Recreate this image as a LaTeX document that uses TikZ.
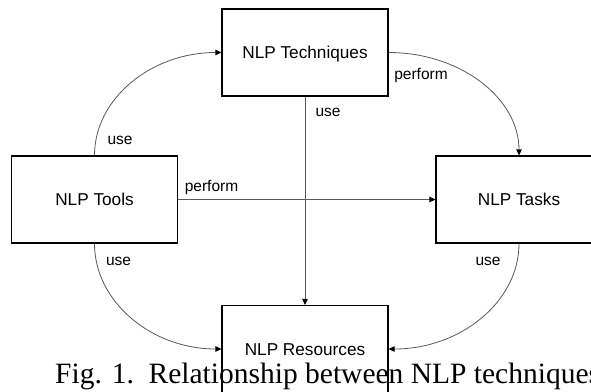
\documentclass[tikz,border=0pt]{standalone}
\usepackage{fontspec}
\setmainfont{Liberation Serif}
\setsansfont{Liberation Sans}
\usetikzlibrary{arrows.meta,shadows}
\begin{document}
\begin{tikzpicture}[x=1pt,y=-1pt,
  box/.style={draw=black, line width=1.2pt, fill=white, minimum width=166pt, minimum height=87pt, inner sep=0pt,
    font=\sffamily\fontsize{17.2}{19}\selectfont, text height=12.3pt, text depth=0pt,
    drop shadow={shadow xshift=0.6pt, shadow yshift=-1.4pt, fill=black!35, opacity=0.6}},
  conn/.style={draw=black!65, line width=0.8pt, -{Triangle[length=6pt,width=5.5pt,black]}},
  lbl/.style={font=\sffamily\fontsize{15.5}{17}\selectfont, anchor=base, inner sep=0pt}]
\useasboundingbox (0,0) rectangle (591,391);
\clip (0,0) rectangle (591,391);
\fill[white] (0,0) rectangle (591,391);
% boxes
\node[box] (tech) at (305,52.5) {NLP Techniques};
\node[box] (tools) at (94.5,199.5) {NLP Tools};
\node[box] (tasks) at (519,199.5) {NLP Tasks};
\node[box] (res) at (305,349) {NLP Resources};
% connectors
\draw[conn] (tools.north) .. controls +(0,-57) and +(-70,0) .. (tech.west);
\draw[conn] (tech.east) .. controls +(72,0) and +(0,-57) .. (tasks.north);
\draw[conn] (tools.south) .. controls +(0,58) and +(-70,0) .. (res.west);
\draw[conn] (tasks.south) .. controls +(0,58) and +(72,0) .. (res.east);
\draw[conn] (tech.south) -- (res.north);
\draw[conn] (tools.east) -- (tasks.west);
% labels
\node[lbl] (u1) at (120,144) {use};
\node[lbl] (p1) at (211.5,191) {perform};
\node[lbl] (p2) at (421,79) {perform};
\node[lbl] (u2) at (328,116) {use};
\node[lbl] (u3) at (118.5,265) {use};
\node[lbl] (u4) at (488,265) {use};
% caption
\node[anchor=base west, inner sep=0pt, font=\fontsize{29.5}{32}\selectfont] (cap) at (55,383)
  {Fig. 1.\hspace{0.5em}Relationship between NLP techniques};
\end{tikzpicture}
\end{document}
